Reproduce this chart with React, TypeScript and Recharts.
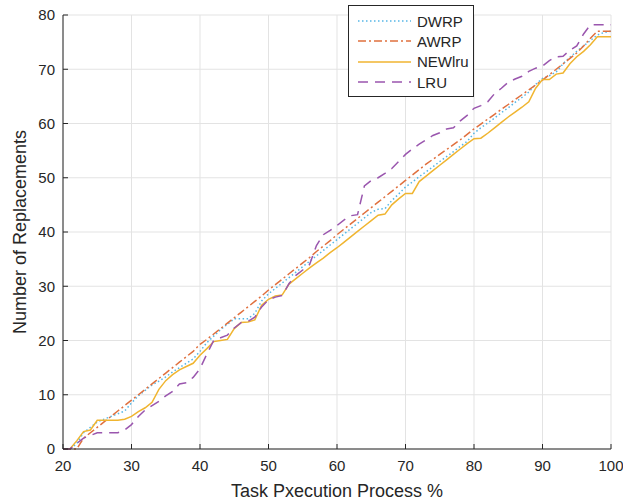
import React from 'react';
import { LineChart, Line, XAxis, YAxis, CartesianGrid, Legend } from 'recharts';

// task execution progress (%)
const progress = [
  20, 21, 22, 23, 24, 25, 26, 27, 28, 29,
  30, 31, 32, 33, 34, 35, 36, 37, 38, 39,
  40, 41, 42, 43, 44, 45, 46, 47, 48, 49,
  50, 51, 52, 53, 54, 55, 56, 57, 58, 59,
  60, 61, 62, 63, 64, 65, 66, 67, 68, 69,
  70, 71, 72, 73, 74, 75, 76, 77, 78, 79,
  80, 81, 82, 83, 84, 85, 86, 87, 88, 89,
  90, 91, 92, 93, 94, 95, 96, 97, 98, 99,
  100,
];

const dwrp = [
  0, 0, 1, 3, 4, 5, 5.5, 6, 6.5, 7,
  8.5, 9.8, 10.8, 11.8, 12.5, 13.3, 14.2, 15, 15.8, 16.6,
  18, 19.6, 20.8, 22, 23, 24, 24, 24, 25, 27.3,
  28.6, 29.6, 30.6, 31.6, 32.6, 33.6, 34.6, 35.6, 36.6, 37.6,
  38.6, 39.6, 40.6, 41.6, 42.6, 43.6, 44.2, 44.3, 45.8, 47,
  48.3, 49.2, 50.2, 51.1, 52, 53, 53.9, 54.8, 55.8, 56.7,
  58.2, 59.2, 60.1, 61, 62, 62.9, 63.9, 64.8, 65.8, 67.2,
  68.3, 68.8, 69.5, 71, 72.2, 73.3, 74.3, 75.3, 76.3, 76.8,
  77,
];

const awrp = [
  0, 0, 0, 2, 3, 4, 5, 6, 7, 8,
  9, 10, 11, 12, 13, 14, 15, 16, 17, 18,
  19.3, 20.2, 21.2, 22.2, 23.2, 24.2, 25.2, 26.2, 27.2, 28.2,
  29.3, 30.3, 31.3, 32.3, 33.3, 34.3, 35.3, 36.4, 37.4, 38.4,
  39.5, 40.5, 41.5, 42.5, 43.5, 44.5, 45.5, 46.5, 47.5, 48.5,
  49.5, 50.5, 51.5, 52.5, 53.4, 54.3, 55.2, 56.1, 57, 58,
  59, 59.9, 60.8, 61.7, 62.6, 63.5, 64.4, 65.3, 66.2, 67.1,
  68, 69, 70, 71, 72, 73, 74.3, 75.7, 77, 77,
  77,
];

const newlru = [
  0, 0, 1.5, 3.2, 3.5, 5.3, 5.3, 5.3, 5.3, 5.5,
  6, 6.9, 7.6, 8.6, 11, 12.6, 13.7, 14.6, 15.2, 15.8,
  17.3, 18.5, 19.8, 20, 20.2, 22.2, 23.3, 23.4, 23.8, 26.5,
  27.6, 28.2, 28.4, 30.4, 31.4, 32.4, 33.4, 34.3, 35.2, 36.2,
  37.1, 38.1, 39.1, 40.1, 41.1, 42.1, 43.1, 43.3, 45, 46.1,
  47.1, 47.1, 49.3, 50.3, 51.3, 52.3, 53.3, 54.3, 55.3, 56.3,
  57.2, 57.3, 58.2, 59.2, 60.2, 61.2, 62.1, 63, 64, 66.5,
  68.1, 68.1, 69.1, 69.3, 71, 72.3, 73.3, 74.5, 76, 76,
  76,
];

const lru = [
  0, 0, 1, 2, 2.5, 3, 3, 3, 3, 3.5,
  4.5, 6, 7.2, 8, 8.8, 9.8, 10.6, 12, 12.2, 13.2,
  14.8, 17.5, 20, 20.5, 21, 22.3, 23.3, 23.5, 24.3, 26.2,
  27.5, 28, 28.3, 30.5, 32, 33, 34, 37.5, 39.5, 40.3,
  41.2, 42.2, 43, 43.2, 48.5, 49.5, 50, 50.8, 51.7, 53,
  54.3, 55.3, 56.2, 57, 57.8, 58.3, 59, 59.2, 60.5, 61.5,
  62.8, 63.3, 64, 65.5, 66.5, 67.6, 68.2, 68.7, 69.6, 70.2,
  70.6, 71.6, 72.3, 72.4, 73.5, 74.3, 76.5, 78.2, 78.2, 78.2,
  78.2,
];

const xTicks = [20, 30, 40, 50, 60, 70, 80, 90, 100];
const yTicks = [0, 10, 20, 30, 40, 50, 60, 70, 80];

const series = [
  { key: 'DWRP', color: '#55B6E6', dash: '1.5 2.5' },
  { key: 'AWRP', color: '#E0703E', dash: '8 3 2 3' },
  { key: 'NEWlru', color: '#F0B530', dash: undefined },
  { key: 'LRU', color: '#9A56AE', dash: '10 7' },
];

const data = progress.map((p, i) => ({
  progress: p,
  DWRP: dwrp[i],
  AWRP: awrp[i],
  NEWlru: newlru[i],
  LRU: lru[i],
}));

const axisColor = '#262626';
const font = '"Liberation Sans", Arial, Helvetica, sans-serif';

function LegendBox() {
  return (
    <div
      style={{
        boxSizing: 'border-box',
        width: 126,
        height: 92,
        border: `1px solid ${axisColor}`,
        background: '#fff',
        paddingTop: 5,
        fontFamily: font,
        fontSize: 15,
        color: axisColor,
      }}
    >
      {series.map((s) => (
        <div key={s.key} style={{ display: 'flex', alignItems: 'center', height: 20.3 }}>
          <svg width={68} height={10} style={{ flexShrink: 0 }}>
            <line
              x1={9}
              x2={62}
              y1={5}
              y2={5}
              stroke={s.color}
              strokeWidth={1.5}
              strokeDasharray={s.dash}
            />
          </svg>
          <span>{s.key}</span>
        </div>
      ))}
    </div>
  );
}

export default function App() {
  return (
    <div style={{ position: 'absolute', left: 0, top: 0, background: '#fff' }}>
      <LineChart
        width={623}
        height={503}
        data={data}
        margin={{ top: 15, right: 12, bottom: 0, left: 0 }}
        style={{ fontFamily: font }}
      >
        <CartesianGrid stroke="#e3e3e3" strokeWidth={1} />
        <XAxis
          dataKey="progress"
          type="number"
          domain={[20, 100]}
          ticks={xTicks}
          height={54}
          stroke={axisColor}
          tickSize={-5}
          tickMargin={16}
          tick={{ fill: axisColor, fontSize: 15 }}
          label={{ value: 'Task Pxecution Process %', position: 'insideBottom', offset: 6, fill: axisColor, fontSize: 18 }}
        />
        <XAxis
          xAxisId="top"
          orientation="top"
          dataKey="progress"
          type="number"
          domain={[20, 100]}
          ticks={xTicks}
          height={0}
          stroke={axisColor}
          tickSize={-5}
          tickFormatter={() => ''}
        />
        <YAxis
          type="number"
          domain={[0, 80]}
          ticks={yTicks}
          width={63}
          stroke={axisColor}
          tickSize={-5}
          tickMargin={13}
          tick={{ fill: axisColor, fontSize: 15 }}
          label={{
            value: 'Number of Replacements',
            angle: -90,
            position: 'insideLeft',
            offset: 20,
            fill: axisColor,
            fontSize: 18,
            style: { textAnchor: 'middle' },
          }}
        />
        <YAxis
          yAxisId="right"
          orientation="right"
          type="number"
          domain={[0, 80]}
          ticks={yTicks}
          width={0}
          stroke={axisColor}
          tickSize={-5}
          tickFormatter={() => ''}
        />
        {series.map((s) => (
          <Line
            key={s.key}
            type="linear"
            dataKey={s.key}
            stroke={s.color}
            strokeWidth={1.5}
            strokeDasharray={s.dash}
            dot={false}
            activeDot={false}
            isAnimationActive={false}
          />
        ))}
        <Legend
          layout="horizontal"
          verticalAlign="middle"
          align="center"
          content={() => <LegendBox />}
          wrapperStyle={{ position: 'absolute', left: 348, top: 5, width: 126, height: 92 }}
        />
      </LineChart>
    </div>
  );
}
